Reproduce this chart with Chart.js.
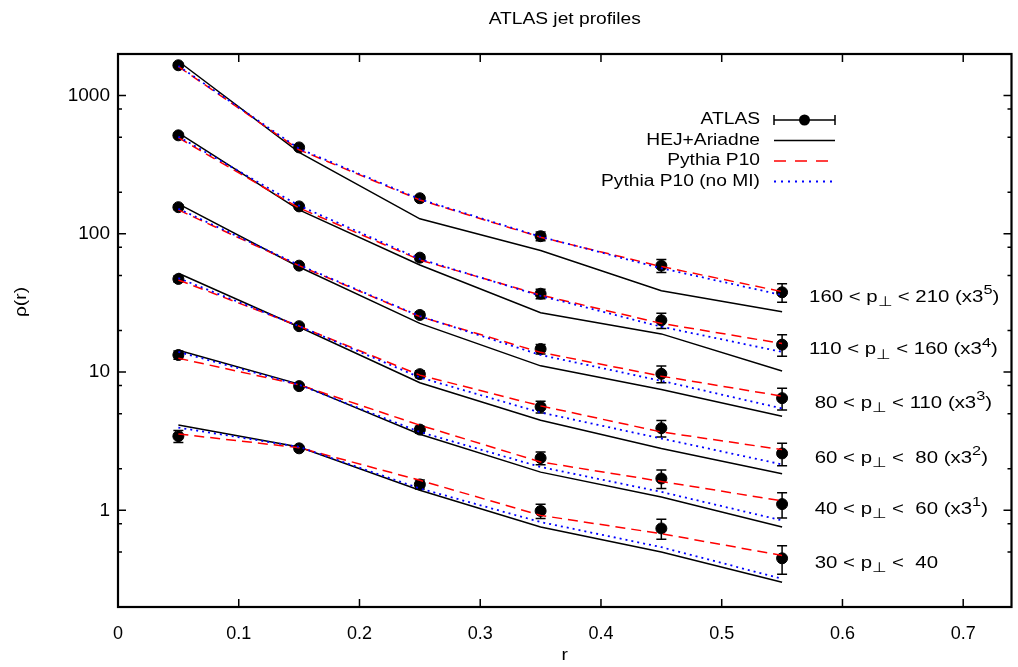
<!DOCTYPE html>
<html>
<head>
<meta charset="utf-8">
<script src="https://cdn.jsdelivr.net/npm/chart.js@4.4.0/dist/chart.umd.min.js"></script>
<style>
    html, body { margin: 0; padding: 0; background: #fff; }
    #box { width: 1018px; height: 667px; }
</style>
</head>
<body>
<div id="box"><canvas id="chart" width="1018" height="667"></canvas></div>
<script>
// r bins and pT bins
let rValues = [0.05, 0.15, 0.25, 0.35, 0.45, 0.55]
let ptLow = [30, 40, 60, 80, 110, 160]
let ptHigh = [40, 60, 80, 110, 160, 210]
let scalePowers = [0, 1, 2, 3, 4, 5]

// rho(r), already multiplied by 3^k, one row per pT bin (lowest first)
let atlasRho = [
    [3.44, 2.81, 1.54, 0.99, 0.74, 0.45],
    [13.3, 7.92, 3.84, 2.39, 1.70, 1.11],
    [47.2, 21.5, 9.67, 5.61, 3.93, 2.58],
    [156, 58.9, 25.9, 14.7, 9.72, 6.48],
    [516, 158, 67.3, 36.9, 23.7, 15.8],
    [1658, 422, 181, 96.2, 58.9, 37.8]
]
let atlasErr = [
    [0.34, 0.11, 0.115, 0.116, 0.123, 0.105],
    [0.93, 0.28, 0.22, 0.25, 0.26, 0.23],
    [2.4, 0.75, 0.56, 0.54, 0.54, 0.48],
    [6.2, 1.8, 1.3, 1.15, 1.33, 1.17],
    [18, 4.7, 3.4, 2.9, 3.0, 2.8],
    [56, 13, 7.6, 6.9, 6.4, 5.8]
]
let hejRho = [
    [4.15, 2.87, 1.40, 0.757, 0.499, 0.302],
    [14.4, 8.19, 3.55, 1.89, 1.25, 0.757],
    [51.9, 21.2, 8.37, 4.49, 2.80, 1.84],
    [165, 57.6, 22.5, 11.1, 7.49, 4.80],
    [537, 149, 59.6, 26.9, 18.9, 10.2],
    [1773, 388, 128.5, 75.7, 38.8, 27.3]
]
let p10Rho = [
    [3.57, 2.84, 1.65, 0.92, 0.678, 0.472],
    [12.6, 8.1, 4.13, 2.24, 1.62, 1.17],
    [46.4, 21.5, 9.51, 5.70, 3.69, 2.75],
    [149, 58.9, 25.2, 13.9, 9.35, 6.70],
    [496, 154, 64.8, 36.1, 22.5, 16.1],
    [1622, 406, 176, 94.6, 58, 38.2]
]
let noMiRho = [
    [3.97, 2.88, 1.44, 0.823, 0.542, 0.32],
    [14.0, 8.1, 3.69, 2.06, 1.36, 0.846],
    [47.9, 21.5, 9.15, 5.10, 3.31, 2.15],
    [152, 59.5, 25.4, 13.3, 8.65, 5.46],
    [505, 160, 65.8, 35.6, 21.3, 14.0],
    [1640, 413, 178, 95.3, 56.4, 36.1]
]

// axes
let xTicks = [0, 0.1, 0.2, 0.3, 0.4, 0.5, 0.6, 0.7]
let yTicks = [1, 10, 100, 1000]
let yMinorSteps = [2, 5, 8]
let legendLabels = ['ATLAS', 'HEJ+Ariadne', 'Pythia P10', 'Pythia P10 (no MI)']

// styles
let fontName = '"Liberation Sans", Arial, sans-serif'
let textStretch = 1.2
let redColor = '#ff0000'
let blueColor = '#0000ff'

function toPoints(values)
{
    return rValues.map((r, i) => ({ x: r, y: values[i] }))
}

let datasets = []
for (let k = 0; k < ptLow.length; k++)
{
    datasets.push({ label: legendLabels[0], data: toPoints(atlasRho[k]), showLine: false, pointRadius: 5.5,
        backgroundColor: '#000', borderColor: '#000', order: 4, errors: atlasErr[k] })
    datasets.push({ label: legendLabels[1], data: toPoints(hejRho[k]), borderColor: '#000', borderWidth: 1.5,
        pointRadius: 0, order: 3 })
    datasets.push({ label: legendLabels[2], data: toPoints(p10Rho[k]), borderColor: redColor, borderWidth: 1.5,
        borderDash: [10, 6], pointRadius: 0, order: 2 })
    datasets.push({ label: legendLabels[3], data: toPoints(noMiRho[k]), borderColor: blueColor, borderWidth: 1.8,
        borderDash: [2, 4], pointRadius: 0, order: 1 })
}

// stretched text, the reference font is wider than Arial
function drawText(ctx, text, x, y, align, size)
{
    ctx.save()
    ctx.font = size + 'px ' + fontName
    ctx.translate(x, y)
    ctx.scale(textStretch, 1)
    ctx.textAlign = align
    ctx.textBaseline = 'middle'
    ctx.fillStyle = '#000'
    ctx.fillText(text, 0, 0)
    ctx.restore()
}

// pieces: [text, shift] with shift 0 normal, 1 superscript, -1 subscript
function drawRichText(ctx, pieces, x, y, size)
{
    let cx = x
    for (let p of pieces)
    {
        let s = p[1] == 0 ? size : size * 0.8
        let dy = p[1] == 0 ? 0 : (p[1] > 0 ? -size * 0.4 : size * 0.3)
        ctx.save()
        ctx.font = s + 'px ' + fontName
        ctx.translate(cx, y + dy)
        ctx.scale(textStretch, 1)
        ctx.textAlign = 'left'
        ctx.textBaseline = 'middle'
        ctx.fillStyle = '#000'
        ctx.fillText(p[0], 0, 0)
        cx += ctx.measureText(p[0]).width * textStretch
        ctx.restore()
    }
}

function drawErrorBar(ctx, x, yTop, yBottom, cap)
{
    ctx.beginPath()
    ctx.moveTo(x, yTop)
    ctx.lineTo(x, yBottom)
    ctx.moveTo(x - cap, yTop)
    ctx.lineTo(x + cap, yTop)
    ctx.moveTo(x - cap, yBottom)
    ctx.lineTo(x + cap, yBottom)
    ctx.stroke()
}

let gnuplotLook = {
    id: 'gnuplotLook',
    beforeDatasetsDraw(chart)
    {
        let ctx = chart.ctx, xs = chart.scales.x, ys = chart.scales.y
        ctx.save()
        ctx.strokeStyle = '#000'
        ctx.lineWidth = 1.5
        chart.data.datasets.forEach(ds =>
        {
            if (!ds.errors) return
            ds.data.forEach((pt, i) =>
            {
                let x = xs.getPixelForValue(pt.x)
                drawErrorBar(ctx, x, ys.getPixelForValue(pt.y + ds.errors[i]), ys.getPixelForValue(pt.y - ds.errors[i]), 5)
            })
        })
        ctx.restore()
    },
    afterDraw(chart)
    {
        let ctx = chart.ctx, xs = chart.scales.x, ys = chart.scales.y
        let a = chart.chartArea
        ctx.save()
        ctx.strokeStyle = '#000'

        // inward ticks on all four sides
        ctx.lineWidth = 1.5
        ctx.beginPath()
        xTicks.forEach(v =>
        {
            let x = xs.getPixelForValue(v)
            ctx.moveTo(x, a.bottom); ctx.lineTo(x, a.bottom - 8)
            ctx.moveTo(x, a.top); ctx.lineTo(x, a.top + 8)
        })
        yTicks.forEach(v =>
        {
            let y = ys.getPixelForValue(v)
            ctx.moveTo(a.left, y); ctx.lineTo(a.left + 8, y)
            ctx.moveTo(a.right, y); ctx.lineTo(a.right - 8, y)
        })
        let decades = [0.1].concat(yTicks)
        decades.forEach(d =>
        {
            yMinorSteps.forEach(m =>
            {
                let v = d * m
                if (v < ys.min || v > ys.max) return
                let y = ys.getPixelForValue(v)
                ctx.moveTo(a.left, y); ctx.lineTo(a.left + 4, y)
                ctx.moveTo(a.right, y); ctx.lineTo(a.right - 4, y)
            })
        })
        ctx.stroke()

        // frame
        ctx.lineWidth = 2.2
        ctx.strokeRect(a.left, a.top, a.right - a.left, a.bottom - a.top)

        // titles
        drawText(ctx, 'ATLAS jet profiles', (a.left + a.right) / 2, 20, 'center', 16)
        drawText(ctx, 'r', (a.left + a.right) / 2, 656, 'center', 16)
        ctx.save()
        ctx.translate(22, 302)
        ctx.rotate(-Math.PI / 2)
        drawText(ctx, 'ρ(r)', 0, 0, 'center', 16)
        ctx.restore()

        // pT bin labels next to the last point
        for (let k = 0; k < ptLow.length; k++)
        {
            let y = ys.getPixelForValue(atlasRho[k][5]) + 5
            let x = xs.getPixelForValue(rValues[5]) + 27
            let pieces = [[String(ptLow[k]).padStart(3, ' ') + ' < p', 0], ['⊥', -1], [' < ' + String(ptHigh[k]).padStart(3, ' '), 0]]
            if (scalePowers[k] > 0)
            {
                pieces.push([' (x3', 0], [String(scalePowers[k]), 1], [')', 0])
            }
            drawRichText(ctx, pieces, x, y, 17)
        }

        // legend
        let textRight = 760, sampleLeft = 774, sampleRight = 835
        legendLabels.forEach((label, i) =>
        {
            let y = 120 + i * 20.5
            drawText(ctx, label, textRight, y, 'right', 16)
            ctx.save()
            ctx.lineWidth = i == 3 ? 1.8 : 1.5
            if (i == 0)
            {
                ctx.strokeStyle = '#000'
                ctx.beginPath()
                ctx.moveTo(sampleLeft, y); ctx.lineTo(sampleRight, y)
                ctx.moveTo(sampleLeft, y - 5); ctx.lineTo(sampleLeft, y + 5)
                ctx.moveTo(sampleRight, y - 5); ctx.lineTo(sampleRight, y + 5)
                ctx.stroke()
                ctx.beginPath()
                ctx.arc((sampleLeft + sampleRight) / 2, y, 5.5, 0, Math.PI * 2)
                ctx.fillStyle = '#000'
                ctx.fill()
            }
            else
            {
                ctx.strokeStyle = i == 1 ? '#000' : (i == 2 ? redColor : blueColor)
                ctx.setLineDash(i == 1 ? [] : (i == 2 ? [12, 9] : [2, 5]))
                ctx.beginPath()
                ctx.moveTo(sampleLeft, y); ctx.lineTo(sampleRight, y)
                ctx.stroke()
            }
            ctx.restore()
        })
        ctx.restore()
    }
}

let chart = new Chart(document.getElementById('chart').getContext('2d'), {
    type: 'line',
    data: { datasets: datasets },
    options: {
        responsive: false,
        animation: false,
        layout: { padding: { top: 54, right: 2, left: 0, bottom: 0 } },
        elements: { line: { tension: 0 } },
        plugins: { legend: { display: false }, tooltip: { enabled: false }, title: { display: false } },
        scales: {
            x: {
                type: 'linear',
                min: 0,
                max: 0.74,
                grid: { display: false, drawTicks: false },
                border: { display: false },
                afterBuildTicks: axis => { axis.ticks = xTicks.map(v => ({ value: v })) },
                afterFit: axis => { axis.height = 60 },
                ticks: { color: '#000', padding: 16, maxRotation: 0, autoSkip: false,
                    font: { family: fontName, size: 18 }, callback: v => String(v) }
            },
            y: {
                type: 'logarithmic',
                min: 0.2,
                max: 2000,
                grid: { display: false, drawTicks: false },
                border: { display: false },
                afterBuildTicks: axis => { axis.ticks = yTicks.map(v => ({ value: v })) },
                afterFit: axis => { axis.width = 118 },
                ticks: { color: '#000', padding: 8, autoSkip: false,
                    font: { family: fontName, size: 19 }, callback: v => String(v) }
            }
        }
    },
    plugins: [gnuplotLook]
})
</script>
</body>
</html>
